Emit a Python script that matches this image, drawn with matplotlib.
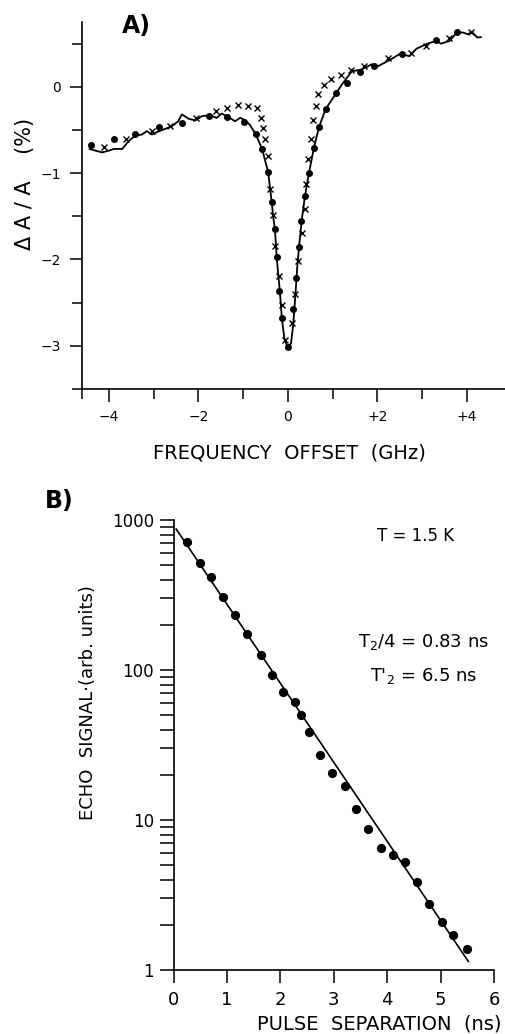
# Fig. : A) spectre de trou (ΔA/A) et B) décroissance de l'écho de photons
import matplotlib
matplotlib.use("Agg")
import matplotlib.pyplot as plt
from matplotlib.ticker import FixedLocator, LogLocator, NullFormatter

# ---- Panneau A : données ----
freq_line = [-4.43, -4.30, -4.15, -4.00, -3.89, -3.70, -3.56, -3.41, -3.26, -3.15,
             -3.04, -2.93, -2.74, -2.59, -2.45, -2.37, -2.22, -2.07, -1.92, -1.74,
             -1.59, -1.48, -1.33, -1.18, -1.07, -0.98, -0.85, -0.72, -0.58, -0.44,
             -0.40, -0.36, -0.33, -0.29, -0.25, -0.18, -0.135, -0.08, 0.00, 0.07,
             0.12, 0.17, 0.21, 0.25, 0.31, 0.38, 0.47, 0.58, 0.69, 0.84,
             1.06, 1.21, 1.43, 1.65, 1.87, 2.02, 2.24, 2.50, 2.72, 2.87,
             3.12, 3.31, 3.42, 3.61, 3.76, 3.90, 4.01, 4.12, 4.23, 4.31]
dA_line = [-0.72, -0.74, -0.76, -0.74, -0.72, -0.72, -0.63, -0.565, -0.553, -0.514,
           -0.553, -0.526, -0.487, -0.456, -0.40, -0.32, -0.37, -0.39, -0.34, -0.33,
           -0.36, -0.31, -0.35, -0.40, -0.36, -0.38, -0.44, -0.55, -0.715, -0.99,
           -1.17, -1.34, -1.50, -1.65, -1.98, -2.37, -2.68, -2.91, -3.03, -2.97,
           -2.75, -2.39, -2.08, -1.85, -1.54, -1.27, -1.00, -0.71, -0.475, -0.26,
           -0.09, 0.03, 0.18, 0.20, 0.26, 0.24, 0.30, 0.38, 0.355, 0.44,
           0.50, 0.53, 0.50, 0.53, 0.62, 0.63, 0.61, 0.63, 0.57, 0.575]

freq_dots = [-4.39, -3.88, -3.41, -2.88, -2.37, -1.76, -1.35, -0.98, -0.72, -0.58,
             -0.44, -0.36, -0.28, -0.235, -0.19, -0.135, 0.01, 0.12, 0.18, 0.25,
             0.30, 0.39, 0.47, 0.58, 0.70, 0.85, 1.07, 1.32, 1.61, 1.93,
             2.54, 3.31, 3.78]
dA_dots = [-0.68, -0.61, -0.545, -0.47, -0.415, -0.34, -0.345, -0.41, -0.55, -0.715,
           -0.99, -1.34, -1.645, -1.975, -2.37, -2.68, -3.01, -2.57, -2.21, -1.86,
           -1.55, -1.27, -1.00, -0.71, -0.47, -0.26, -0.075, 0.045, 0.175, 0.24,
           0.385, 0.54, 0.63]

freq_cross = [-4.11, -3.62, -3.03, -2.63, -2.05, -1.60, -1.35, -1.11, -0.90, -0.70,
              -0.60, -0.56, -0.52, -0.45, -0.41, -0.33, -0.28, -0.21, -0.14, -0.06,
              0.09, 0.16, 0.23, 0.32, 0.38, 0.41, 0.46, 0.51, 0.55, 0.62,
              0.68, 0.81, 0.97, 1.18, 1.42, 1.71, 2.23, 2.76, 3.09, 3.61,
              4.09]
dA_cross = [-0.70, -0.61, -0.51, -0.455, -0.365, -0.285, -0.25, -0.215, -0.22, -0.245,
            -0.365, -0.48, -0.61, -0.80, -1.18, -1.48, -1.84, -2.19, -2.53, -2.93,
            -2.73, -2.40, -2.02, -1.69, -1.41, -1.13, -0.84, -0.61, -0.38, -0.22,
            -0.08, 0.02, 0.09, 0.135, 0.195, 0.235, 0.33, 0.39, 0.47, 0.56,
            0.63]

freq_ticks = [-4, -2, 0, 2, 4]
freq_labels = ["\u22124", "\u22122", "0", "+2", "+4"]
dA_ticks = [0, -1, -2, -3]
dA_labels = ["0", "\u22121", "\u22122", "\u22123"]

# ---- Panneau B : écho de photons ----
sep = [0.25, 0.49, 0.70, 0.93, 1.16, 1.375, 1.63, 1.85, 2.05, 2.28,
       2.39, 2.53, 2.74, 2.96, 3.21, 3.41, 3.645, 3.88, 4.11, 4.33,
       4.56, 4.79, 5.02, 5.24, 5.49]
echo = [710, 515, 415, 305, 233, 173, 126, 92.6, 71.7, 61.5,
        50, 38.4, 27, 20.7, 16.9, 11.8, 8.7, 6.5, 5.8, 5.27,
        3.86, 2.75, 2.09, 1.71, 1.37]
fit_sep = [0.05, 5.52]
fit_echo = [870, 1.14]
sep_ticks = [0, 1, 2, 3, 4, 5, 6]
echo_ticks = [1, 10, 100, 1000]
echo_labels = ["1", "10", "100", "1000"]

W, H = 506, 1034
fig = plt.figure(figsize=(W / 100, H / 100), dpi=100)


def axes_px(left, top, right, bottom):
    return fig.add_axes([left / W, 1 - bottom / H, (right - left) / W, (bottom - top) / H])


def style(ax):
    for s in ("top", "right"):
        ax.spines[s].set_visible(False)
    for s in ("left", "bottom"):
        ax.spines[s].set_linewidth(1.2)
    ax.tick_params(which="both", direction="out", width=1.1, color="black")


# Panneau A
axA = axes_px(82, 22, 505, 389)
style(axA)
axA.plot(freq_line, dA_line, color="black", lw=1.3, zorder=2)
axA.plot(freq_dots, dA_dots, "o", color="black", ms=4.0, zorder=3)
axA.plot(freq_cross, dA_cross, "x", color="black", ms=4.0, mew=1.0, zorder=3)
axA.set_xlim(-4.6, 4.85)
axA.set_ylim(-3.5, 0.75)
axA.set_xticks(freq_ticks)
axA.set_xticklabels(freq_labels)
axA.set_yticks(dA_ticks)
axA.set_yticklabels(dA_labels)
axA.xaxis.set_minor_locator(FixedLocator([-4.6, -3, -1, 1, 3]))
axA.yaxis.set_minor_locator(FixedLocator([0.5, -0.5, -1.5, -2.5, -3.5]))
axA.tick_params(which="major", length=9, labelsize=10, pad=6)
axA.tick_params(which="minor", length=7)

fig.text(289 / W, 1 - 453 / H, "FREQUENCY  OFFSET  (GHz)", ha="center", va="center",
         fontsize=14)
fig.text(25 / W, 1 - 184 / H, "\u0394 A / A    (%)", rotation=90, ha="center",
         va="center", fontsize=15)
fig.text(122 / W, 1 - 33 / H, "A)", fontsize=17, fontweight="bold", ha="left",
         va="baseline")

# Panneau B
axB = axes_px(173.5, 520, 494, 970)
style(axB)
axB.set_yscale("log")
axB.plot(fit_sep, fit_echo, color="black", lw=1.2, zorder=2)
axB.plot(sep, echo, "o", color="black", ms=5.6, zorder=3)
axB.set_xlim(0, 6)
axB.set_ylim(1, 1000)
axB.set_xticks(sep_ticks)
axB.set_yticks(echo_ticks)
axB.set_yticklabels(echo_labels)
axB.yaxis.set_minor_locator(LogLocator(base=10, subs=range(2, 10)))
axB.yaxis.set_minor_formatter(NullFormatter())
axB.tick_params(axis="y", which="both", length=10, labelsize=12, pad=4)
axB.tick_params(axis="x", which="major", length=9, labelsize=13, pad=6)

fig.text(502 / W, 1 - 1024 / H, "PULSE  SEPARATION  (ns)", ha="right", va="center",
         fontsize=14)
fig.text(88 / W, 1 - 703 / H, "ECHO  SIGNAL\u00b7(arb. units)", rotation=90,
         ha="center", va="center", fontsize=13)
fig.text(45 / W, 1 - 508 / H, "B)", fontsize=17, fontweight="bold", ha="left",
         va="baseline")

fig.text(416 / W, 1 - 536 / H, "T = 1.5 K", ha="center", va="center", fontsize=12)
fig.text(489 / W, 1 - 647 / H, r"T$_2$/4 = 0.83 ns", ha="right", va="baseline",
         fontsize=13)
fig.text(477 / W, 1 - 681 / H, r"T$'_2$ = 6.5 ns", ha="right", va="baseline",
         fontsize=13)

fig.savefig("out.png", dpi=100)
plt.close(fig)
print("Figure sauvegardée : out.png")
